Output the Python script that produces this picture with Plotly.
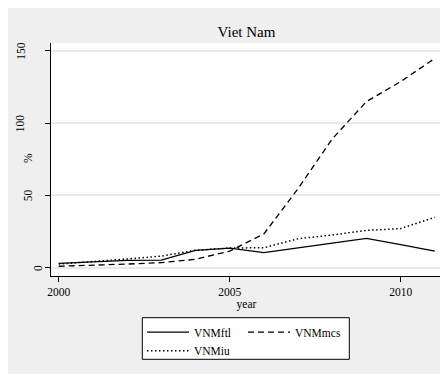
import plotly.graph_objects as go

years = list(range(2000, 2012))
vnm_ftl = [3.0, 4.0, 5.0, 5.3, 12.0, 13.5, 10.4, 13.7, 17.0, 20.3, 16.0, 11.5]
vnm_mcs = [1.0, 1.5, 2.5, 3.5, 5.8, 11.5, 23.3, 54.7, 89.0, 114.8, 128.6, 144.7]
vnm_iu = [2.5, 4.0, 6.0, 8.0, 12.0, 13.6, 13.8, 20.0, 22.6, 25.8, 27.0, 34.8]
y_ticks = [0, 50, 100, 150]
x_ticks = [2000, 2005, 2010]

OFF = 8  # page body margin
W, H = 440, 366
# plot area in screenshot pixels
SX0, SX1, SY0, SY1 = 51, 442, 43, 276
L, R, T, B = SX0 - OFF, W - (SX1 - OFF), SY0 - OFF, H - (SY1 - OFF)
pw, ph = W - L - R, H - T - B
FONT = "Liberation Serif"

def px_x(x):  # screenshot x -> paper
    return (x - SX0) / pw

def px_y(y):  # screenshot y -> paper
    return (SY1 - y) / ph

fig = go.Figure()
fig.add_trace(go.Scatter(x=years, y=vnm_ftl, mode="lines", name="VNMftl",
                         line=dict(color="black", width=1.3), legend="legend"))
fig.add_trace(go.Scatter(x=years, y=vnm_mcs, mode="lines", name="VNMmcs",
                         line=dict(color="black", width=1.3, dash="6px,4px"), legend="legend2"))
fig.add_trace(go.Scatter(x=years, y=vnm_iu, mode="lines", name="VNMiu",
                         line=dict(color="black", width=1.5, dash="1.5px,2.5px"), legend="legend3"))

annotations = []
for t in y_ticks:
    s = str(t)
    cx = 46 - 8.6 * len(s)
    annotations.append(dict(text=s, x=px_x(cx), xref="paper", y=t, yref="y",
                            xanchor="center", yanchor="middle", textangle=-90,
                            showarrow=False, font=dict(family=FONT, size=11.5, color="black")))
annotations.append(dict(text="%", x=px_x(28), xref="paper", y=px_y(158), yref="paper",
                        xanchor="center", yanchor="middle", textangle=-90,
                        showarrow=False, font=dict(family=FONT, size=11.5, color="black")))

shapes = [
    dict(type="rect", xref="paper", yref="paper", x0=px_x(142.3), x1=px_x(349.3),
         y0=px_y(359.3), y1=px_y(317.7), fillcolor="white",
         line=dict(color="black", width=1), layer="below"),
]

leg_common = dict(bgcolor="rgba(0,0,0,0)", borderwidth=0, itemwidth=42,
                  font=dict(family=FONT, size=11.5, color="black"),
                  xanchor="left", yanchor="top", orientation="v", tracegroupgap=0,
                  itemclick=False, itemdoubleclick=False)

fig.update_layout(
    width=W, height=H,
    margin=dict(l=L, r=R, t=T, b=B, pad=0),
    paper_bgcolor="#efefef",
    plot_bgcolor="white",
    font=dict(family=FONT, size=11.5, color="black"),
    title=dict(text="Viet Nam", x=px_x(246.5), xref="paper", xanchor="center",
               y=1 - (32 - OFF) / H, yref="container", yanchor="middle",
               font=dict(family=FONT, size=15, color="black")),
    showlegend=True,
    legend=dict(x=px_x(142), y=px_y(317.7), **leg_common),
    legend2=dict(x=px_x(243), y=px_y(317.7), **leg_common),
    legend3=dict(x=px_x(142), y=px_y(336.3), **leg_common),
    xaxis=dict(range=[1999.775, 2011.21], tickvals=x_ticks, ticktext=[str(v) for v in x_ticks],
               showgrid=False, zeroline=False, showline=True, linecolor="black", linewidth=1,
               ticks="outside", ticklen=5, tickcolor="black", tickwidth=1,
               tickfont=dict(family=FONT, size=11.5, color="black"),
               title=dict(text="year", standoff=2, font=dict(family=FONT, size=11.5, color="black"))),
    yaxis=dict(range=[-5.74, 155.3], tickvals=y_ticks, showticklabels=False,
               showgrid=True, gridcolor="#eaeaea", gridwidth=2, zeroline=False,
               showline=True, linecolor="black", linewidth=1,
               ticks="outside", ticklen=5, tickcolor="black", tickwidth=1),
    annotations=annotations,
    shapes=shapes,
)

fig.write_html("out.html")
